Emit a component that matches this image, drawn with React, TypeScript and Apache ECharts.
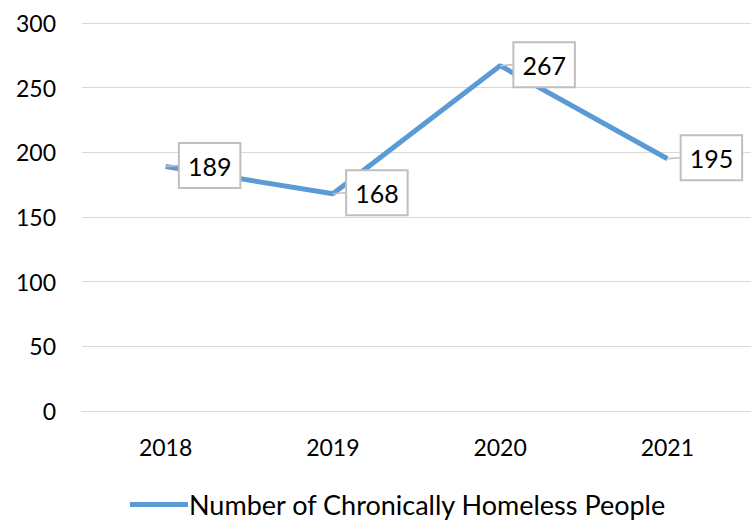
import React, { useEffect, useRef } from "react";
import * as echarts from "echarts";

const categories = ["2018", "2019", "2020", "2021"];
const values = [189, 168, 267, 195];
const seriesName = "Number of Chronically Homeless People";

export default function App() {
  const ref = useRef<HTMLDivElement>(null);
  useEffect(() => {
    if (!ref.current) return;
    const chart = echarts.init(ref.current, null, { renderer: "svg" });
    const font = "Lato";
    chart.setOption({
      animation: false,
      textStyle: { fontFamily: font },
      grid: { left: 82, right: -3, top: 23, bottom: 109 },
      legend: {
        bottom: -3,
        left: 125,
        itemWidth: 58,
        itemHeight: 5,
        itemGap: 0,
        textStyle: { fontSize: 27, color: "#000", fontFamily: font, padding: [0, 0, 0, -4] },
        data: [{ name: seriesName, icon: "rect" }],
      },
      xAxis: {
        type: "category",
        data: categories,
        boundaryGap: true,
        axisLine: { show: true, lineStyle: { color: "#d9d9d9", width: 1 } },
        axisTick: { show: false },
        axisLabel: { fontSize: 23, color: "#000", margin: 24, fontFamily: font },
      },
      yAxis: {
        type: "value",
        min: 0,
        max: 300,
        interval: 50,
        axisLine: { show: false },
        axisTick: { show: false },
        splitLine: { lineStyle: { color: "#d9d9d9", width: 1 } },
        axisLabel: { fontSize: 23, color: "#000", margin: 26, fontFamily: font },
      },
      series: [
        {
          name: seriesName,
          type: "line",
          data: values,
          symbol: "circle",
          symbolSize: 0,
          showSymbol: true,
          lineStyle: { color: "#5b9bd5", width: 5 },
          itemStyle: { color: "#5b9bd5" },
          label: {
            show: true,
            position: "inside",
            fontSize: 25,
            color: "#000",
            fontFamily: font,
            backgroundColor: "#fff",
            borderColor: "#bfbfbf",
            borderWidth: 2,
            padding: [9, 8, 9, 8],
          },
          labelLayout: { dx: 44, dy: -1 },
          labelLine: { show: true, lineStyle: { color: "#bfbfbf", width: 1.5 } },
        },
      ],
    });
    return () => chart.dispose();
  }, []);
  return (
    <div
      ref={ref}
      style={{ position: "fixed", left: 0, top: 0, width: 751, height: 520, background: "#fff" }}
    />
  );
}
